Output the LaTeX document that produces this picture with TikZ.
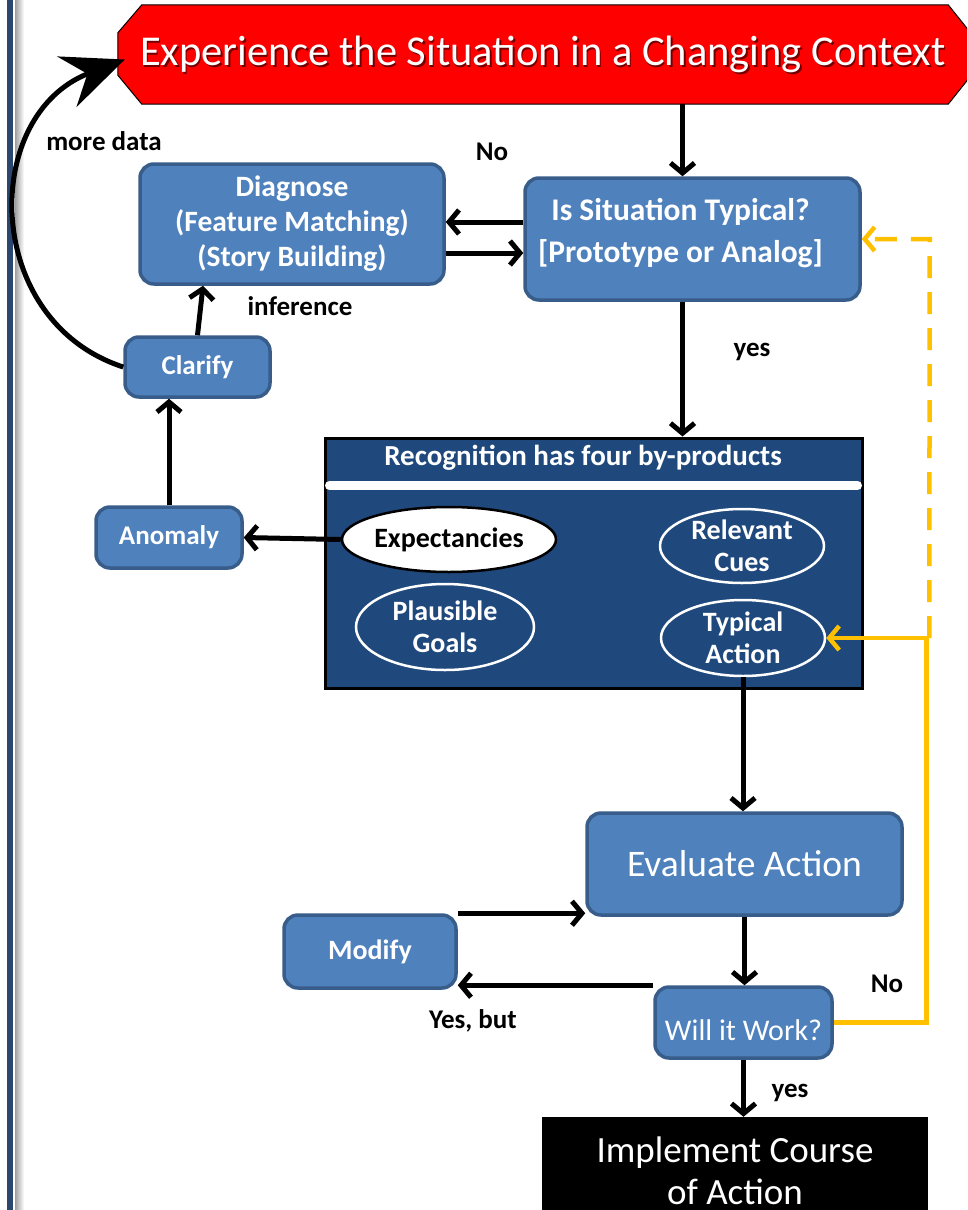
\documentclass[tikz,border=0pt]{standalone}
\usepackage{fontspec}
\setmainfont{Carlito}
\usepackage{xcolor}
\usetikzlibrary{positioning,calc,arrows.meta,shapes.geometric}

\definecolor{boxblue}{RGB}{79,129,189}
\definecolor{boxline}{RGB}{56,93,138}
\definecolor{recblue}{RGB}{31,73,125}
\definecolor{edgeblue}{RGB}{44,70,110}
\definecolor{amber}{RGB}{255,192,0}

\tikzset{
  box/.style={draw=boxline, fill=boxblue, line width=3.5pt, rounded corners=14pt,
    text=white, align=center, inner sep=0pt},
  oval/.style={ellipse, draw=white, line width=2.5pt, text=white, align=center, inner sep=0pt},
  lbl/.style={font=\fontsize{27}{32}\selectfont\bfseries},
  arr/.style={line width=5pt, -{Straight Barb[length=10pt,width=24pt]}},
  fbk/.style={amber, line width=4.5pt, -{Straight Barb[length=10pt,width=24pt]}}
}

\begin{document}
\begin{tikzpicture}[x=1pt,y=-1pt]
    \useasboundingbox (0,0) rectangle (967,1210);
    \clip (0,0) rectangle (967,1210);

    % Border
    \fill[edgeblue] (7,0) rectangle (13,1210);
    \shade[left color=gray!75, right color=white] (15,0) rectangle (24,1210);

    % Context
    \node (ctx) [minimum width=850pt, minimum height=99pt] at (543,54.5) {};
    \draw[fill=red, line width=1pt] ([xshift=24pt]ctx.north west) -- ([xshift=-20pt]ctx.north east)
      -- ([yshift=-25pt]ctx.north east) -- ([yshift=25pt]ctx.south east)
      -- ([xshift=-20pt]ctx.south east) -- ([xshift=24pt]ctx.south west)
      -- ([yshift=29pt]ctx.south west) -- ([yshift=-28pt]ctx.north west) -- cycle;
    \node[text=red!45!black, font=\fontsize{42.5}{50}\selectfont] at ([shift={(1.5pt,-1.5pt)}]ctx)
      {Experience the Situation in a Changing Context};
    \node[text=white, font=\fontsize{42.5}{50}\selectfont] at (ctx)
      {Experience the Situation in a Changing Context};

    % Diagnosis loop
    \node (diag) [box, minimum width=304pt, minimum height=120pt,
      font=\fontsize{29.5}{35}\selectfont\bfseries] at (292,224)
      {Diagnose\\(Feature Matching)\\(Story Building)};
    \node (isit) [box, minimum width=335pt, minimum height=122pt,
      font=\fontsize{31.5}{42}\selectfont\bfseries] at (692.5,239)
      {Is Situation Typical?\hspace*{24pt}\\{}[Prototype or Analog]\hspace*{24pt}\rule[-18pt]{0pt}{18pt}};
    \node (clarify) [box, minimum width=145pt, minimum height=60pt,
      font=\fontsize{27}{32}\selectfont\bfseries] at (197.5,367) {Clarify};
    \node (anomaly) [box, minimum width=146pt, minimum height=61pt,
      font=\fontsize{27}{32}\selectfont\bfseries] at (169,537.5) {Anomaly};

    % Recognition
    \node (rec) [draw=black, fill=recblue, line width=3pt, minimum width=537pt,
      minimum height=250pt] at (593.5,563) {};
    \node (rectitle) [text=white, font=\fontsize{29}{34}\selectfont\bfseries] at (583,458)
      {Recognition has four by-products};
    \draw[white, line width=9pt, line cap=round] ([shift={(6pt,-49pt)}]rec.north west)
      -- ([shift={(-6pt,-49pt)}]rec.north east);
    \node (expect) [oval, draw=black, fill=white, text=black, minimum width=214pt,
      minimum height=65pt, font=\fontsize{28}{32}\selectfont\bfseries] at (449,539.5) {Expectancies};
    \node (cues) [oval, minimum width=164pt, minimum height=74pt,
      font=\fontsize{28}{32}\selectfont\bfseries] at (742,546) {Relevant\\Cues};
    \node (goals) [oval, minimum width=178pt, minimum height=86pt,
      font=\fontsize{28}{32}\selectfont\bfseries] at (445,627) {Plausible\\Goals};
    \node (typical) [oval, minimum width=164pt, minimum height=76pt,
      font=\fontsize{28}{32}\selectfont\bfseries] at (743,638) {Typical\\Action};

    % Evaluation
    \node (eval) [box, minimum width=315pt, minimum height=102pt,
      font=\fontsize{37.5}{44}\selectfont] at (744.5,864) {Evaluate Action};
    \node (modify) [box, minimum width=172pt, minimum height=73pt,
      font=\fontsize{28}{32}\selectfont\bfseries] at (370,951.5) {Modify};
    \node (work) [box, minimum width=177pt, minimum height=71pt,
      font=\fontsize{30}{34}\selectfont] at (743.5,1022.5) {\rule{0pt}{37pt}Will it Work?};
    \node (impl) [fill=black, text=white, minimum width=386pt, minimum height=108pt,
      align=center, inner sep=0pt, font=\fontsize{37}{42}\selectfont] at (735,1171)
      {Implement Course\\of Action};

    % Labels
    \node[lbl] at (104,141) {more data};
    \node[lbl] at (492,152) {No};
    \node[lbl] at (300,306) {inference};
    \node[lbl] at (752,352) {yes};
    \node[lbl] at (473,1021) {Yes, but};
    \node[lbl] at (887,984) {No};
    \node[lbl] at (790,1093) {yes};

    % Arrows
    \draw[arr] ([xshift=-10pt]isit.north |- ctx.south) -- ([xshift=-10pt]isit.north);
    \draw[arr] ([yshift=17pt]isit.west) -- ([yshift=17pt]isit.west -| diag.east);
    \draw[arr] ([yshift=-14pt]isit.west -| diag.east) -- ([yshift=-14pt]isit.west);
    \draw[arr] (clarify.north) -- ([xshift=-89pt]diag.south);
    \draw[line width=5pt, -{Stealth[length=62pt,width=54pt,inset=22pt]}]
      (clarify.west) .. controls (-18,321) and (-20,115) .. ([shift={(7pt,-5pt)}]ctx.west);
    \draw[arr] (anomaly.north) -- (anomaly.north |- clarify.south);
    \draw[arr] (expect.west) -- (anomaly.east);
    \draw[arr] ([xshift=-10pt]isit.south) -- ([xshift=-10pt]isit.south |- rec.north);
    \draw[arr] (typical.south) -- (typical.south |- eval.north);
    \draw[arr] (modify.north east) -- (modify.north east -| eval.west);
    \draw[arr] (eval.south) -- (eval.south |- work.north);
    \draw[arr] (work.north west) -- (work.north west -| modify.east);
    \draw[arr] (work.south) -- (work.south |- impl.north);

    % Feedback
    \draw[fbk] (work.east) -| ($(typical.east)+(100,0)$) -- (typical.east);
    \draw[fbk, dashed, dash pattern=on 22pt off 14pt] ($(typical.east)+(103,0)$)
      -- ($(isit.east)+(68,0)$) -- (isit.east);
\end{tikzpicture}
\end{document}
